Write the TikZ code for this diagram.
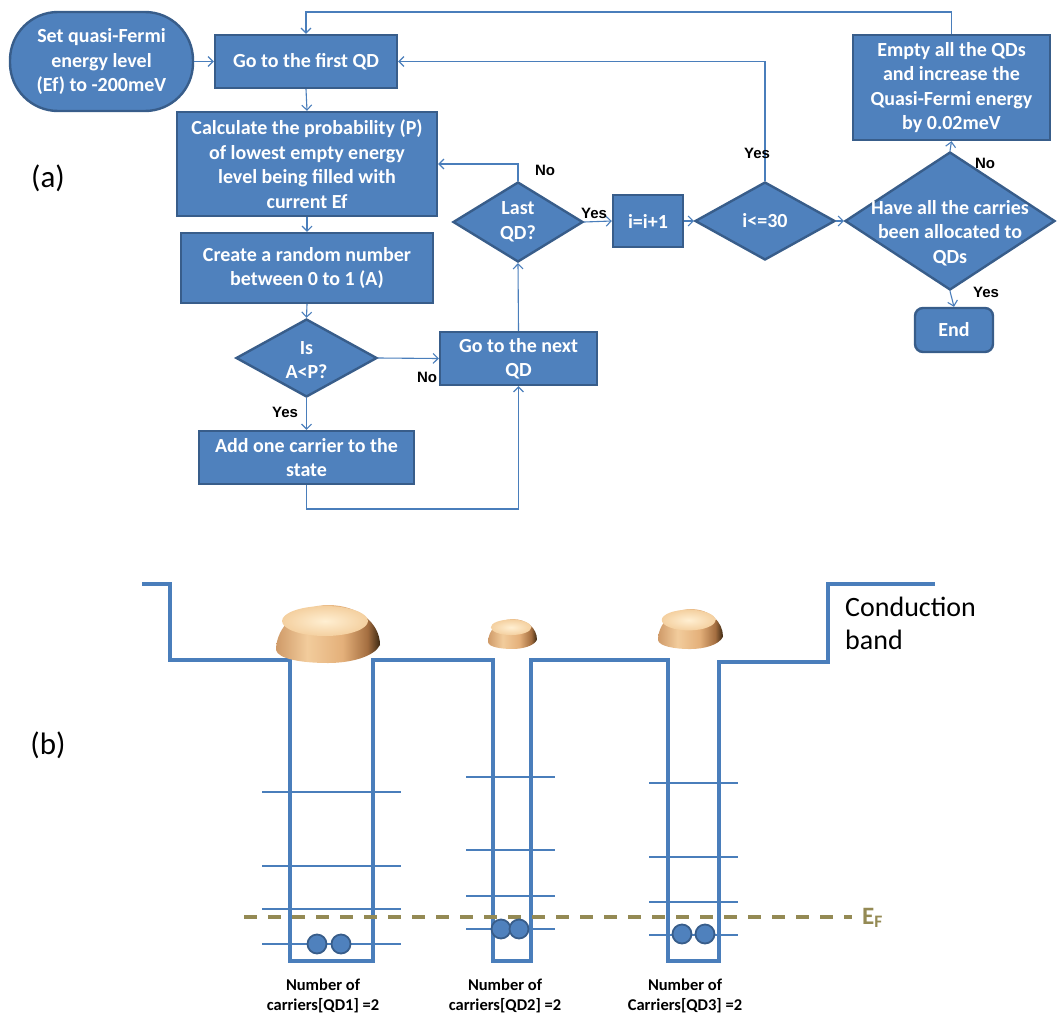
\documentclass[tikz,border=0pt]{standalone}
\usepackage{fontspec}
\setmainfont{Carlito}
\newfontfamily\answerfont{Liberation Sans}
\usetikzlibrary{shapes.geometric,arrows.meta}
\definecolor{boxfill}{HTML}{4F81BD}
\definecolor{boxline}{HTML}{385D8A}
\definecolor{wire}{HTML}{4A7EBB}
\definecolor{band}{HTML}{4A7EBB}
\definecolor{fermi}{HTML}{948A54}
\definecolor{sideA}{HTML}{CF9A68}
\definecolor{sideB}{HTML}{F2CC9C}
\definecolor{sideC}{HTML}{E4B07A}
\definecolor{sideD}{HTML}{A46E40}
\definecolor{sideE}{HTML}{3C2812}
\definecolor{capin}{HTML}{FFEFD2}
\definecolor{capout}{HTML}{F4D0A0}
\pgfdeclarehorizontalshading{domeside}{100bp}{%
  color(0bp)=(sideA); color(25bp)=(sideA); color(40bp)=(sideB); color(57bp)=(sideC);
  color(69bp)=(sideD); color(75bp)=(sideE); color(100bp)=(sideE)}
\tikzset{
  x=1pt, y=-1pt,
  proc/.style={draw=boxline, line width=2.4pt, fill=boxfill, rectangle, inner sep=0pt},
  term/.style={proc, rounded corners=#1},
  dia/.style={draw=boxline, line width=2.4pt, fill=boxfill, diamond, inner sep=0pt},
  ftext/.style={text=white, font=\bfseries\fontsize{20}{24.5}\selectfont, align=center, inner sep=0pt},
  flow/.style={draw=wire, line width=1.1pt, -{Straight Barb[length=5pt,width=10pt]}},
  ans/.style={font=\answerfont\bfseries\fontsize{15}{17}\selectfont, inner sep=0pt},
  bandline/.style={draw=band, line width=3.4pt, line join=miter},
  level/.style={draw=band, line width=1.3pt},
  carrier/.style={circle, fill=boxfill, draw=boxline, line width=1.8pt, minimum size=19pt, inner sep=0pt},
  qdlabel/.style={font=\bfseries\fontsize{16.5}{19.5}\selectfont, align=center, inner sep=0pt},
  panel/.style={font=\fontsize{31}{33}\selectfont, inner sep=0pt},
  dome/.pic={
    \shade[shading=domeside] (-52,45) .. controls (-52,22) and (-30,0) .. (0,0)
      .. controls (30,0) and (52,18) .. (52,40)
      .. controls (46,52) and (22,58) .. (0,58)
      .. controls (-26,58) and (-50,54) .. (-52,45) -- cycle;
    \shade[inner color=capin, outer color=capout] (-3,16) ellipse [x radius=43, y radius=15];
  },
}
\begin{document}
\begin{tikzpicture}
\useasboundingbox (0,0) rectangle (1057,1017);

% ---------------- (a) flowchart ----------------
\node[panel] (pa) at (48,178) {(a)};

\node[term=48pt, minimum width=183pt, minimum height=99pt] (start) at (101.5,61.5) {};
\node[ftext] at (start) {Set quasi-Fermi\\energy level\\(Ef) to -200meV};

\node[proc, minimum width=182pt, minimum height=53pt] (first) at (306,61.5) {};
\node[ftext] at (first) {Go to the first QD};

\node[proc, minimum width=260pt, minimum height=104pt] (calc) at (307,164) {};
\node[ftext] at (calc) {Calculate the probability (P)\\of lowest empty energy\\level being filled with\\current Ef};

\node[proc, minimum width=252pt, minimum height=70pt] (rand) at (307,268) {};
\node[ftext] at (rand) {Create a random number\\between 0 to 1 (A)};

\node[dia, minimum width=141pt, minimum height=78pt] (isap) at (306.5,358) {};
\node[ftext] at (306.5,360) {Is\\A<P?};

\node[proc, minimum width=215pt, minimum height=53pt] (add) at (306.5,457.5) {};
\node[ftext] at (add) {Add one carrier to the\\state};

\node[proc, minimum width=157pt, minimum height=53pt] (next) at (518.5,358.5) {};
\node[ftext] at (next) {Go to the next\\QD};

\node[dia, minimum width=130pt, minimum height=80pt] (last) at (518,222) {};
\node[ftext] at (last) {Last\\QD?};

\node[proc, minimum width=70pt, minimum height=52pt] (inc) at (648,221) {};
\node[ftext] at (inc) {i=i+1};

\node[dia, minimum width=140pt, minimum height=78pt] (le) at (765,221) {};
\node[ftext] at (le) {i<=30};

\node[dia, minimum width=210pt, minimum height=138pt] (have) at (950,221) {};
\node[ftext] at (950,233) {Have all the carries\\been allocated to\\QDs};

\node[proc, minimum width=197pt, minimum height=105pt] (empty) at (951.5,87.5) {};
\node[ftext] at (empty) {Empty all the QDs\\and increase the\\Quasi-Fermi energy\\by 0.02meV};

\node[term=8pt, minimum width=78pt, minimum height=44pt] (fin) at (954,330) {};
\node[ftext] at (fin) {End};

\coordinate (topline) at (0,12);
\coordinate (backline) at (0,509);

% connectors
\draw[flow] (start.east) -- (first.west);
\draw[flow] (first.south) -- (calc.north);
\draw[flow] (calc.south) -- (rand.north);
\draw[flow] (rand.south) -- (isap.north);
\draw[flow] (isap.south) -- (add.north);
\draw[flow] (isap.east) -- (next.west);
\draw[flow] (add.south) -- (add.south |- backline) -| (next.south);
\draw[flow] (next.north) -- (last.south);
\draw[flow] (last.north) |- (calc.east);
\draw[flow] (last.east) -- (inc.west);
\draw[flow] (inc.east) -- (le.west);
\draw[flow] (le.north) |- (first.east);
\draw[flow] (le.east) -- (have.west);
\draw[flow] (have.north) -- (empty.south);
\draw[flow] (have.south) -- (fin.north);
\draw[flow] (empty.north) -- (empty.north |- topline) -| (first.north);

% branch answers
\node[ans] (y1) at (285,412) {Yes};
\node[ans] (n1) at (427,377) {No};
\node[ans] (n2) at (545,170) {No};
\node[ans] (y2) at (594,213) {Yes};
\node[ans] (y3) at (757,153) {Yes};
\node[ans] (n3) at (985,163) {No};
\node[ans] (y4) at (986,292) {Yes};

% ---------------- (b) conduction band profile ----------------
\node[panel] (pb) at (48,745) {(b)};

% energy levels inside the dots
\foreach \yy in {792,866,909,944} \draw[level] (262,\yy) -- (401,\yy);
\foreach \yy in {777,850,896,929} \draw[level] (466,\yy) -- (555,\yy);
\foreach \yy in {783,857,902,935} \draw[level] (649,\yy) -- (738,\yy);

% band edge with three wells
\draw[bandline] (142,584) -- (170,584) -- (170,660) -- (290,660) -- (290,961)
  -- (373,961) -- (373,660) -- (493,660) -- (493,961) -- (531,961) -- (531,660)
  -- (668,660) -- (668,961) -- (719,961) -- (719,662) -- (828,662) -- (828,584) -- (935,584);

% quasi-Fermi level
\draw[fermi, line width=4pt, dash pattern=on 13pt off 11pt] (244,917) -- (852,917);
\node[text=fermi, font=\bfseries\fontsize{25}{28}\selectfont, anchor=west, inner sep=0pt] (ef) at (862,918) {E\textsubscript{F}};

% dots drawn as domes
\pic at (328,605) {dome};
\pic[xscale=0.471, yscale=0.517] at (512.5,619) {dome};
\pic[xscale=0.625, yscale=0.69] at (690.5,609) {dome};

% carriers
\node[carrier] (c11) at (317,944) {};
\node[carrier] (c12) at (341,944) {};
\node[carrier] (c21) at (501,929) {};
\node[carrier] (c22) at (519,929) {};
\node[carrier] (c31) at (682,934) {};
\node[carrier] (c32) at (705,934) {};

\node[qdlabel] (l1) at (323,996) {Number of\\carriers[QD1] =2};
\node[qdlabel] (l2) at (505,996) {Number of\\carriers[QD2] =2};
\node[qdlabel] (l3) at (685,996) {Number of\\Carriers[QD3] =2};

\node[font=\fontsize{28}{33}\selectfont, align=left, anchor=north west, inner sep=0pt] (cb) at (845,597) {Conduction\\band};
\end{tikzpicture}
\end{document}
